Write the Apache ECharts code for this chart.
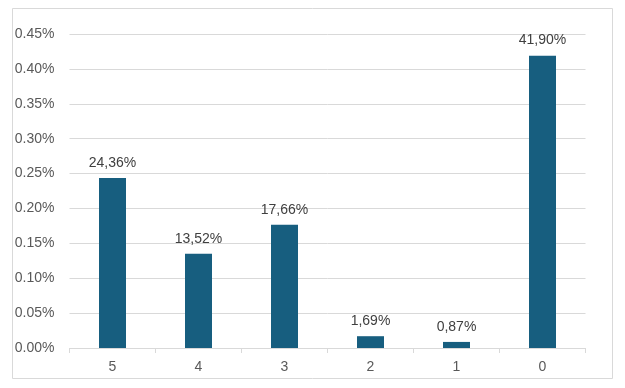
<!DOCTYPE html>
<html>
<head>
<meta charset="utf-8">
<script src="https://cdn.jsdelivr.net/npm/echarts@6/dist/echarts.min.js"></script>
<style>
html,body{margin:0;padding:0;background:#fff;}
#c{width:625px;height:388px;}
</style>
</head>
<body>
<div id="c"></div>
<script>
// Data
var categories = ['5', '4', '3', '2', '1', '0'];
var barValues = [0.2436, 0.1352, 0.1766, 0.0169, 0.0087, 0.4190]; // percent units on axis
var labelValues = ['24,36%', '13,52%', '17,66%', '1,69%', '0,87%', '41,90%'];
var yTicks = { min: 0, max: 0.45, interval: 0.05 };

var chart = echarts.init(document.getElementById('c'), null, { renderer: 'canvas' });
var font = 'Liberation Sans, Arial, sans-serif';
chart.setOption({
  animation: false,
  backgroundColor: '#ffffff',
  graphic: [{
    type: 'rect',
    shape: { x: 12.5, y: 8.5, width: 600, height: 370 },
    style: { fill: 'none', stroke: '#d9d9d9', lineWidth: 1 },
    silent: true
  }],
  grid: { left: 69.5, right: 39.5, top: 34, bottom: 40, containLabel: false },
  xAxis: {
    type: 'category',
    data: categories,
    axisLine: { lineStyle: { color: '#d9d9d9', width: 1 } },
    axisTick: { show: true, alignWithLabel: false, length: 5, lineStyle: { color: '#d9d9d9' } },
    axisLabel: { color: '#595959', fontSize: 14, fontFamily: font, margin: 12 }
  },
  yAxis: {
    type: 'value',
    min: yTicks.min, max: yTicks.max, interval: yTicks.interval,
    axisLine: { show: false },
    axisTick: { show: false },
    splitLine: { lineStyle: { color: '#d9d9d9', width: 1 } },
    axisLabel: {
      color: '#595959', fontSize: 14, fontFamily: font, margin: 15,
      formatter: function (v) { return v.toFixed(2) + '%'; }
    }
  },
  series: [{
    type: 'bar',
    data: barValues,
    barWidth: 27,
    itemStyle: { color: '#175e7f' },
    label: {
      show: true,
      position: 'top',
      distance: 8,
      color: '#404040',
      fontSize: 14,
      fontFamily: font,
      formatter: function (p) { return labelValues[p.dataIndex]; }
    }
  }]
});
</script>
</body>
</html>
